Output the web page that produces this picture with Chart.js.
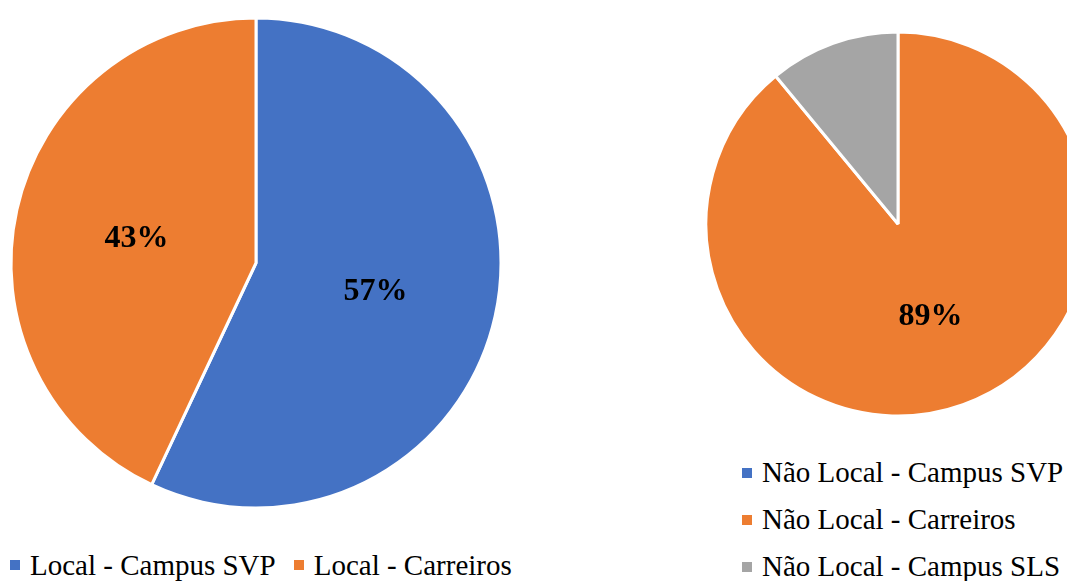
<!DOCTYPE html>
<html>
<head>
<meta charset="utf-8">
<script src="https://cdn.jsdelivr.net/npm/chart.js@4"></script>
<style>
  html, body { margin: 0; padding: 0; background: #fff; width: 1067px; height: 581px; overflow: hidden; position: relative; }
  canvas { position: absolute; }
  #pieLocal { left: 0; top: 0; }
  #pieNaoLocal { left: 698px; top: 24px; }
  .legend { position: absolute; font-family: "Liberation Serif", "Times New Roman", serif; font-size: 29px; color: #000; white-space: nowrap; }
  .legend span.item { display: inline-flex; align-items: center; }
  .legend i { display: inline-block; width: 10px; height: 10px; margin-right: 10px; }
  #legendLocal { left: 10px; top: 544px; }
  #legendLocal span.item { margin-right: 18px; }
  #legendNaoLocal { left: 742px; top: 449px; }
  #legendNaoLocal span.item { display: flex; height: 47px; }
</style>
</head>
<body>
<canvas id="pieLocal" width="512" height="526"></canvas>
<canvas id="pieNaoLocal" width="400" height="400"></canvas>
<div class="legend" id="legendLocal"></div>
<div class="legend" id="legendNaoLocal"></div>
<script>
/* Data */
const localLabels = ['Local - Campus SVP', 'Local - Carreiros'];
const localValues = [57, 43];
const naoLocalLabels = ['Não Local - Campus SVP', 'Não Local - Carreiros', 'Não Local - Campus SLS'];
const naoLocalValues = [0, 89, 11];
const sliceColors = ['#4472C4', '#ED7D31', '#A5A5A5'];

/* Percent labels inside slices */
const percentLabels = {
    id: 'percentLabels',
    afterDatasetsDraw(chart) {
        const ctx = chart.ctx;
        const meta = chart.getDatasetMeta(0);
        const values = chart.data.datasets[0].data;
        ctx.save();
        ctx.font = 'bold 32px "Liberation Serif", "Times New Roman", serif';
        ctx.fillStyle = '#000';
        ctx.textAlign = 'center';
        ctx.textBaseline = 'middle';
        meta.data.forEach((arc, i) => {
            if (values[i] < 15) return; // small slices unlabeled
            const p = arc.getProps(['x', 'y', 'startAngle', 'endAngle', 'outerRadius'], true);
            const mid = (p.startAngle + p.endAngle) / 2;
            const r = p.outerRadius * 0.5;
            ctx.fillText(values[i] + '%', p.x + Math.cos(mid) * r, p.y + Math.sin(mid) * r + 2);
        });
        ctx.restore();
    }
};

function makePie(id, labels, values, radius) {
    new Chart(document.getElementById(id), {
        type: 'pie',
        data: {
            labels: labels,
            datasets: [{
                data: values,
                backgroundColor: sliceColors.slice(0, values.length),
                borderColor: '#ffffff',
                borderWidth: 3
            }]
        },
        options: {
            responsive: false,
            animation: false,
            radius: radius,
            layout: { padding: 0 },
            plugins: {
                legend: { display: false },
                tooltip: { enabled: false }
            }
        },
        plugins: [percentLabels]
    });
}

function makeLegend(id, labels) {
    const box = document.getElementById(id);
    labels.forEach((text, i) => {
        const item = document.createElement('span');
        item.className = 'item';
        item.innerHTML = '<i style="background:' + sliceColors[i] + '"></i>';
        item.appendChild(document.createTextNode(text));
        box.appendChild(item);
    });
}

makePie('pieLocal', localLabels, localValues, 245);
makePie('pieNaoLocal', naoLocalLabels, naoLocalValues, 192);
makeLegend('legendLocal', localLabels);
makeLegend('legendNaoLocal', naoLocalLabels);
</script>
</body>
</html>
